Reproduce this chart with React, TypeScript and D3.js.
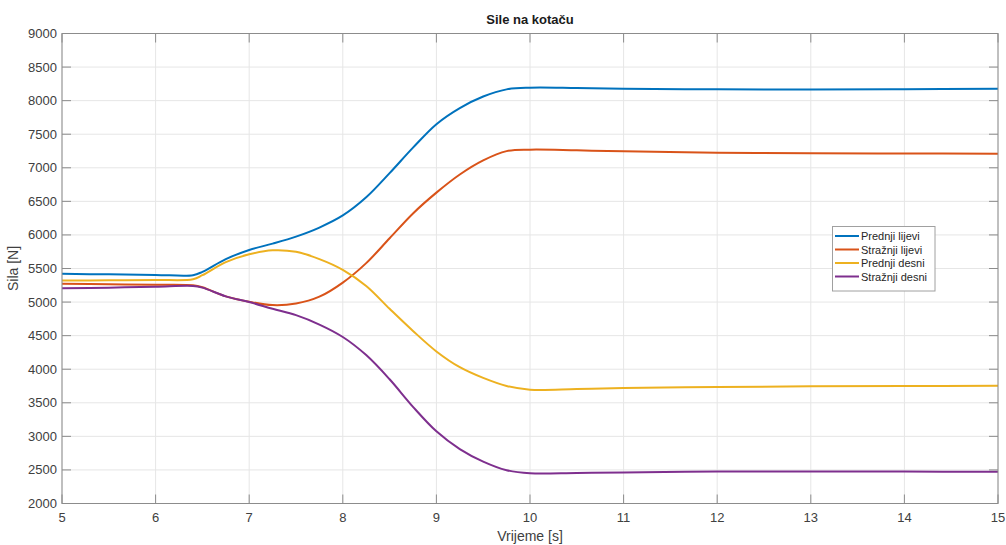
import React from "react";
import * as d3 from "d3";

const time = [5, 5.5, 6, 6.4, 6.5, 6.75, 7, 7.25, 7.5, 7.75, 8, 8.25, 8.5, 8.75, 9, 9.25, 9.5, 9.75, 10, 10.5, 11, 12, 13, 14, 15];
const prednjiLijevi = [5420, 5413, 5405, 5400, 5450, 5640, 5776, 5870, 5975, 6110, 6290, 6560, 6920, 7300, 7650, 7890, 8062, 8168, 8193, 8188, 8178, 8168, 8165, 8170, 8178];
const straznjiLijevi = [5272, 5265, 5258, 5250, 5220, 5085, 5005, 4955, 4978, 5080, 5290, 5580, 5950, 6320, 6630, 6900, 7110, 7248, 7270, 7260, 7245, 7225, 7215, 7212, 7210];
const prednjiDesni = [5320, 5325, 5330, 5340, 5400, 5595, 5711, 5770, 5748, 5640, 5480, 5240, 4900, 4570, 4265, 4030, 3870, 3750, 3695, 3705, 3720, 3735, 3745, 3750, 3752];
const straznjiDesni = [5205, 5215, 5228, 5240, 5215, 5085, 5000, 4900, 4805, 4665, 4480, 4210, 3850, 3440, 3075, 2810, 2623, 2495, 2450, 2455, 2462, 2475, 2478, 2475, 2472];

const seriesNames = ["Prednji lijevi", "Stražnji lijevi", "Prednji desni", "Stražnji desni"];
const seriesValues = [prednjiLijevi, straznjiLijevi, prednjiDesni, straznjiDesni];
const colors = ["#0072BD", "#D95319", "#EDB120", "#7E2F8E"];

const xTicks = [5, 6, 7, 8, 9, 10, 11, 12, 13, 14, 15];
const yTicks = [2000, 2500, 3000, 3500, 4000, 4500, 5000, 5500, 6000, 6500, 7000, 7500, 8000, 8500, 9000];

const W = 1006;
const H = 545;
const left = 62;
const right = 998;
const top = 33.5;
const bottom = 503.5;
const font = "'Liberation Sans', Arial, Helvetica, sans-serif";

export default function App() {
  const x = d3.scaleLinear().domain([5, 15]).range([left, right]);
  const y = d3.scaleLinear().domain([2000, 9000]).range([bottom, top]);
  const line = d3
    .line<[number, number]>()
    .x((d) => x(d[0]))
    .y((d) => y(d[1]))
    .curve(d3.curveCatmullRom.alpha(0.5));

  const axisColor = "#8c8c8c";
  const textColor = "#404040";
  const tickLen = 9;

  return (
    <svg width={W} height={H} style={{ position: "absolute", left: 0, top: 0, background: "#fff" }}>
      <rect x={0} y={0} width={W} height={H} fill="#fff" />
      {xTicks.map((t) => (
        <line key={"gx" + t} x1={x(t)} x2={x(t)} y1={top} y2={bottom} stroke="#e6e6e6" strokeWidth={1} />
      ))}
      {yTicks.map((t) => (
        <line key={"gy" + t} x1={left} x2={right} y1={y(t)} y2={y(t)} stroke="#e6e6e6" strokeWidth={1} />
      ))}
      {seriesValues.map((vals, i) => (
        <path
          key={seriesNames[i]}
          d={line(time.map((t, j) => [t, vals[j]] as [number, number])) || ""}
          fill="none"
          stroke={colors[i]}
          strokeWidth={2}
          strokeLinejoin="round"
        />
      ))}
      <rect x={left} y={top} width={right - left} height={bottom - top} fill="none" stroke={axisColor} strokeWidth={1} />
      {xTicks.map((t) => (
        <g key={"tx" + t}>
          <line x1={x(t)} x2={x(t)} y1={bottom} y2={bottom - tickLen} stroke={axisColor} />
          <line x1={x(t)} x2={x(t)} y1={top} y2={top + tickLen} stroke={axisColor} />
          <text x={x(t)} y={522} textAnchor="middle" fontSize={13} fontFamily={font} fill={textColor}>
            {t}
          </text>
        </g>
      ))}
      {yTicks.map((t) => (
        <g key={"ty" + t}>
          <line x1={left} x2={left + tickLen} y1={y(t)} y2={y(t)} stroke={axisColor} />
          <line x1={right} x2={right - tickLen} y1={y(t)} y2={y(t)} stroke={axisColor} />
          <text x={57} y={y(t) + 4.5} textAnchor="end" fontSize={13} fontFamily={font} fill={textColor}>
            {t}
          </text>
        </g>
      ))}
      <text x={(left + right) / 2} y={541} textAnchor="middle" fontSize={14} fontFamily={font} fill={textColor}>
        Vrijeme [s]
      </text>
      <text
        transform={`translate(18, ${(top + bottom) / 2}) rotate(-90)`}
        textAnchor="middle"
        fontSize={14}
        fontFamily={font}
        fill={textColor}
      >
        Sila [N]
      </text>
      <text x={(left + right) / 2} y={24} textAnchor="middle" fontSize={13} fontWeight="bold" fontFamily={font} fill="#1a1a1a">
        Sile na kotaču
      </text>
      <rect x={832.5} y={226.5} width={102.5} height={64.5} fill="#fff" stroke="#a0a0a0" strokeWidth={1} />
      {seriesNames.map((n, i) => {
        const ly = 236 + i * 13.5;
        return (
          <g key={"lg" + n}>
            <line x1={835} x2={859} y1={ly} y2={ly} stroke={colors[i]} strokeWidth={2} />
            <text x={861} y={ly + 4} fontSize={11} fontFamily={font} fill="#262626">
              {n}
            </text>
          </g>
        );
      })}
    </svg>
  );
}
